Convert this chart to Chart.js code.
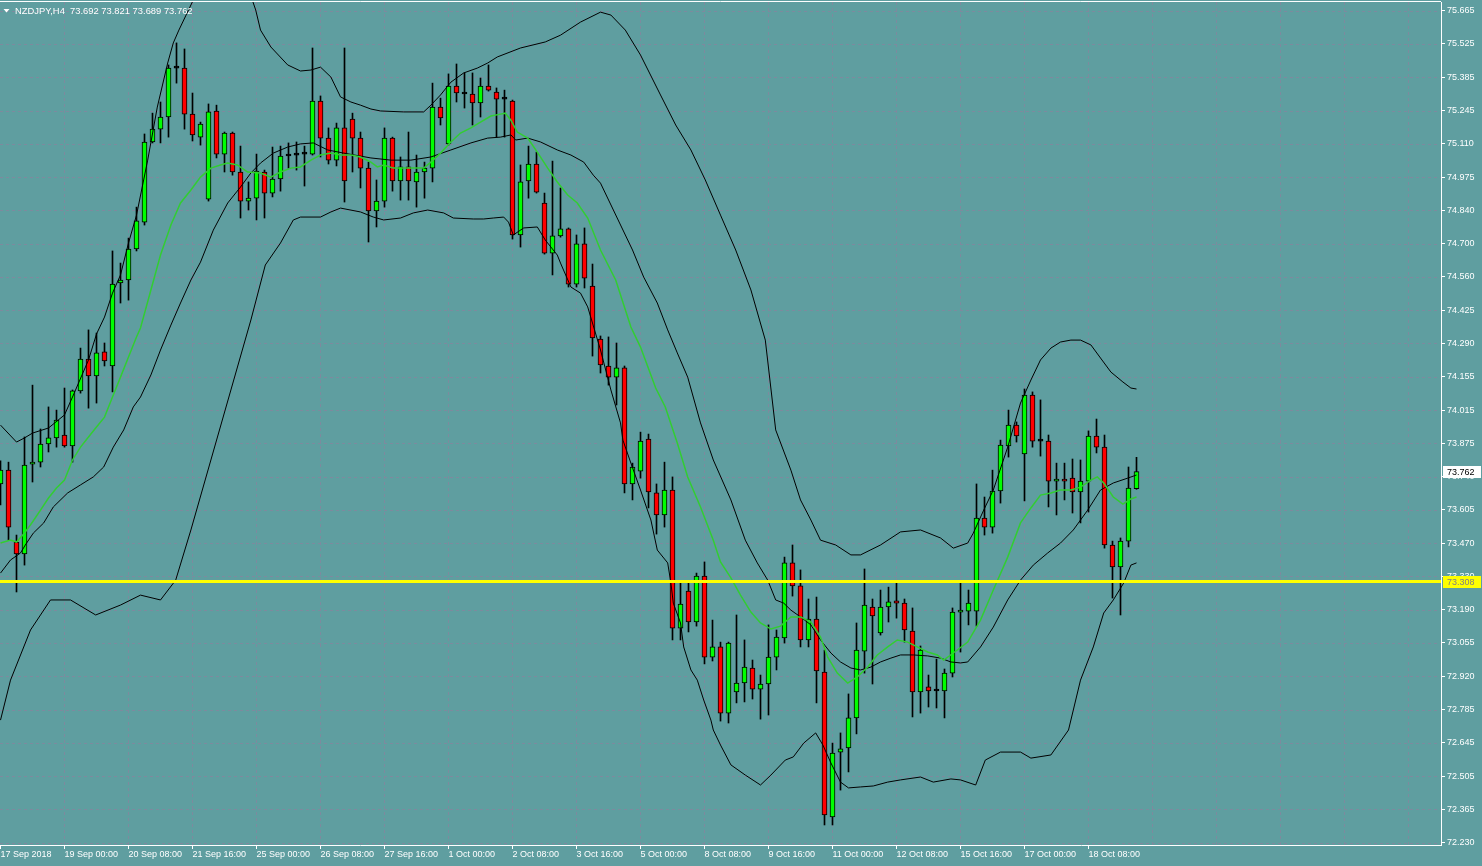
<!DOCTYPE html>
<html>
<head>
<meta charset="utf-8">
<script src="https://cdn.jsdelivr.net/npm/chart.js@4/dist/chart.umd.min.js"></script>
<style>
html,body{margin:0;padding:0;background:#5f9ea0;overflow:hidden}
#wrap{width:1482px;height:866px;position:relative}
</style>
</head>
<body>
<div id="wrap"><canvas id="c" width="1482" height="866"></canvas></div>
<script>
// ---------- chart text ----------
const symbolTitle = 'NZDJPY,H4  73.692 73.821 73.689 73.762';
const xTickLabels = ['17 Sep 2018','19 Sep 00:00','20 Sep 08:00','21 Sep 16:00','25 Sep 00:00','26 Sep 08:00','27 Sep 16:00','1 Oct 00:00','2 Oct 08:00','3 Oct 16:00','5 Oct 00:00','8 Oct 08:00','9 Oct 16:00','11 Oct 00:00','12 Oct 08:00','15 Oct 16:00','17 Oct 00:00','18 Oct 08:00'];
const yTickLabels = ['75.665','75.525','75.385','75.245','75.110','74.975','74.840','74.700','74.560','74.425','74.290','74.155','74.015','73.875','73.740','73.605','73.470','73.330','73.190','73.055','72.920','72.785','72.645','72.505','72.365','72.230'];

// ---------- H4 candles (index 0 = 17 Sep 16:00) ----------
const opens = [73.711,73.768,73.471,73.422,73.793,73.801,73.876,73.901,73.913,73.868,
74.095,74.227,74.157,74.256,74.198,74.541,74.553,74.681,74.792,75.123,
75.176,75.226,75.428,75.428,75.238,75.143,74.887,75.251,75.073,75.160,
74.999,74.879,74.891,74.999,74.912,74.970,75.065,75.069,75.073,75.073,
75.292,75.139,75.048,75.181,75.218,75.139,75.015,74.838,74.879,75.139,
74.962,75.020,74.958,74.999,75.015,75.267,75.115,75.354,75.321,75.321,
75.284,75.354,75.329,75.300,75.292,74.739,74.962,75.032,74.871,74.664,
74.735,74.764,74.536,74.702,74.528,74.309,74.198,74.152,74.190,73.711,
73.764,73.896,73.674,73.583,73.686,73.116,73.269,73.141,73.331,72.996,
73.038,72.765,72.852,72.889,72.951,72.864,72.885,72.996,73.075,73.385,
73.290,73.067,73.153,72.934,72.336,72.604,72.621,72.745,73.021,73.203,
73.096,73.203,73.228,73.219,73.104,72.852,72.873,72.856,72.856,72.930,
73.182,73.186,73.186,73.570,73.533,73.682,73.868,73.954,73.835,74.078,
73.888,73.888,73.723,73.731,73.735,73.678,73.723,73.909,73.863,73.459,
73.368,73.475,73.692];
const highs = [73.806,73.801,73.500,73.905,74.119,73.938,74.029,74.016,74.107,74.099,
74.272,74.347,74.334,74.293,74.673,74.623,74.726,74.854,75.156,75.242,
75.288,75.441,75.532,75.507,75.325,75.205,75.280,75.275,75.164,75.164,
75.106,74.958,75.073,75.007,75.102,75.106,75.119,75.123,75.106,75.511,
75.313,75.181,75.201,75.511,75.242,75.164,75.040,74.966,75.181,75.143,
75.061,75.164,75.069,75.040,75.366,75.304,75.404,75.445,75.408,75.408,
75.387,75.441,75.346,75.337,75.296,75.028,75.106,75.081,74.912,75.044,
74.933,74.768,74.739,74.768,74.619,74.322,74.318,74.293,74.198,73.797,
73.925,73.917,73.711,73.801,73.740,73.306,73.306,73.343,73.389,73.149,
73.058,73.058,73.170,73.067,72.984,72.922,73.129,73.108,73.409,73.459,
73.356,73.236,73.244,73.025,72.641,72.683,72.844,73.137,73.360,73.236,
73.273,73.285,73.306,73.236,73.199,73.042,72.922,72.988,72.947,73.199,
73.302,73.273,73.711,73.657,73.768,73.892,74.016,73.967,74.103,74.091,
74.058,73.913,73.797,73.797,73.814,73.810,73.930,73.979,73.913,73.475,
73.488,73.781,73.821];
const lows = [73.624,73.479,73.265,73.376,73.719,73.781,73.843,73.863,73.863,73.801,
74.086,74.024,74.045,74.198,74.091,74.458,74.470,74.673,74.780,75.119,
75.119,75.143,75.366,75.176,75.127,75.110,74.879,75.057,74.999,74.986,
74.809,74.842,74.801,74.809,74.896,74.920,75.015,75.007,74.941,75.069,
75.061,75.032,75.024,74.875,74.999,74.933,74.710,74.772,74.854,74.920,
74.883,74.883,74.854,74.891,74.958,75.193,75.110,75.288,75.263,75.193,
75.226,75.333,75.143,75.143,74.722,74.689,74.891,74.912,74.660,74.574,
74.730,74.524,74.524,74.520,74.239,74.169,74.119,74.037,73.674,73.645,
73.735,73.612,73.504,73.533,73.067,73.067,73.100,73.124,72.968,72.980,
72.732,72.724,72.807,72.811,72.823,72.740,72.757,72.943,73.054,73.248,
73.038,73.038,72.807,72.303,72.303,72.447,72.522,72.679,72.930,72.885,
73.087,73.141,73.157,73.058,72.749,72.765,72.790,72.786,72.745,72.914,
73.017,73.129,73.124,73.500,73.508,73.632,73.822,73.884,73.641,73.863,
73.826,73.616,73.583,73.645,73.591,73.550,73.595,73.839,73.446,73.240,
73.170,73.451,73.689];
const closes = [73.768,73.533,73.422,73.789,73.801,73.876,73.901,73.975,73.868,74.095,
74.227,74.157,74.252,74.219,74.536,74.553,74.681,74.797,75.123,75.176,
75.226,75.428,75.428,75.238,75.152,75.197,75.247,75.073,75.160,74.999,
74.879,74.891,75.003,74.912,74.970,75.065,75.065,75.069,75.073,75.292,
75.139,75.048,75.181,74.962,75.139,75.015,74.838,74.879,75.139,74.962,
75.020,74.962,74.999,75.015,75.267,75.222,75.354,75.325,75.321,75.284,
75.354,75.337,75.300,75.300,74.739,74.958,75.032,74.916,74.664,74.735,
74.764,74.536,74.702,74.561,74.314,74.202,74.152,74.190,73.711,73.781,
73.888,73.678,73.583,73.686,73.116,73.215,73.141,73.331,72.996,73.038,
72.765,73.054,72.889,72.955,72.864,72.885,72.996,73.079,73.385,73.290,
73.067,73.153,72.939,72.344,72.600,72.617,72.745,73.025,73.211,73.166,
73.203,73.224,73.219,73.108,72.852,73.025,72.856,72.856,72.930,73.182,
73.190,73.219,73.570,73.533,73.682,73.872,73.954,73.909,74.078,73.888,
73.888,73.723,73.731,73.723,73.678,73.723,73.909,73.863,73.459,73.368,
73.475,73.694,73.762];

// ---------- Bollinger bands (black) and moving average (green) ----------
const upperIdx = [0,2,3,4,6,8,9,11,12,13,14,15,16,17,18.4,19.6,20.9,21.6,22.3,24.1,26.3,28.8,30.6,31.9,32.5,33.8,35.9,37.5,38.8,40,41.3,42.5,43.8,45,46.3,47.5,50.4,52.9,53.8,55,56.3,57.9,59.6,60.9,62.1,65,68.1,70,72.5,75,76.3,78.1,80,82.5,84.4,86.3,88.1,90,91.9,93.8,95.6,96.9,98.8,100,101.3,102.5,104.4,106.3,107.5,110,112.5,115,117.5,119.1,120.9,121.6,122.9,124.1,125.9,127.5,128.8,130,131.3,132.5,133.8,135,136.3,137.5,138.8,140.3,141.3,142];
const upperVal = [73.954,73.884,73.901,73.921,73.942,73.996,74.070,74.223,74.330,74.400,74.499,74.574,74.706,74.821,75.048,75.267,75.449,75.532,75.585,75.709,75.812,75.854,75.792,75.668,75.585,75.515,75.441,75.416,75.420,75.432,75.391,75.309,75.288,75.275,75.259,75.251,75.247,75.247,75.275,75.317,75.370,75.408,75.428,75.449,75.474,75.511,75.536,75.564,75.618,75.659,75.647,75.585,75.482,75.317,75.193,75.090,74.966,74.821,74.677,74.512,74.305,73.934,73.768,73.645,73.562,73.479,73.459,73.418,73.418,73.459,73.513,73.521,73.488,73.446,73.467,73.508,73.603,73.686,73.863,74.045,74.140,74.223,74.272,74.297,74.305,74.305,74.285,74.231,74.173,74.132,74.107,74.103];
const midIdx = [0,1.25,2.5,3.1,4.1,5.4,6.6,8.4,10,11.6,12.9,14.1,15.4,16.6,17.5,18.8,20,21.3,22.5,23.8,25,26.6,28.4,30,31.3,32.5,34.1,35.9,37.5,39.1,40.9,42.9,46.3,48.8,51.3,53.8,56.3,58.8,60.9,62.5,63.8,64.4,65.9,67.5,69.6,71.3,72.9,74.1,75,79,80.4,82.1,83.4,84.6,85.9,87.5,89.1,91.3,93.1,94.6,95.9,96.9,97.9,98.8,100,101.3,102.5,103.8,105,106.3,107.5,108.8,110,111.3,112.5,114.1,115.9,117.5,118.8,120,120.9,122.5,124.1,125.9,127.5,129.1,130.9,132.5,134.1,135.9,137.5,139.1,140.9,142];
const midVal = [73.343,73.397,73.426,73.459,73.508,73.550,73.616,73.674,73.707,73.740,73.781,73.863,73.934,74.029,74.070,74.161,74.264,74.367,74.458,74.553,74.627,74.759,74.871,74.937,74.995,75.036,75.077,75.102,75.115,75.119,75.090,75.077,75.057,75.048,75.048,75.061,75.090,75.119,75.139,75.143,75.152,75.131,75.139,75.123,75.090,75.069,75.040,74.986,74.953,74.677,74.565,74.458,74.347,74.252,74.152,73.963,73.810,73.645,73.479,73.385,73.314,73.232,73.219,73.190,73.162,73.129,73.067,73.013,72.976,72.951,72.943,72.955,72.976,72.992,73.005,73.005,73.001,72.992,72.976,72.972,72.976,73.038,73.120,73.232,73.314,73.376,73.426,73.467,73.521,73.603,73.686,73.715,73.735,73.748];
const lowerIdx = [0,1.25,3.75,6.25,8.75,11.9,15,17.5,20,21.9,23.8,26.3,28.8,31.3,33.1,35,36.6,37.5,40,41.3,42.5,45,46.6,47.9,50,51.6,53.4,55.4,56.6,59.1,60.4,61.6,62.9,63.5,64.1,65.4,67.1,68.1,69.6,70,71.3,72.5,73.4,75,76.3,77.5,77.8,78.8,80,81.3,82.1,83.4,83.8,84.1,85,85.4,86.3,87.1,87.9,88.8,89.1,90,91.3,93.1,95,96.3,98.1,99.1,100.4,101.9,102.8,103.8,105,106,107.5,109.1,110.9,112.5,115,116.6,118.8,120,121.9,123.1,125,127.5,128.8,131.3,133.5,135,136.6,137.9,139.1,140.4,141.3,142];
const lowerVal = [72.736,72.901,73.108,73.232,73.232,73.170,73.211,73.252,73.232,73.314,73.521,73.810,74.099,74.388,74.615,74.706,74.801,74.813,74.813,74.834,74.850,74.834,74.813,74.801,74.809,74.830,74.842,74.830,74.809,74.805,74.805,74.809,74.813,74.792,74.739,74.768,74.772,74.718,74.656,74.623,74.524,74.499,74.442,74.264,74.099,73.963,73.892,73.797,73.686,73.562,73.438,73.385,73.302,73.219,73.137,73.038,72.943,72.901,72.819,72.736,72.695,72.633,72.551,72.509,72.468,72.509,72.571,72.584,72.641,72.683,72.633,72.559,72.480,72.456,72.460,72.464,72.480,72.489,72.501,72.480,72.493,72.489,72.468,72.571,72.604,72.604,72.579,72.592,72.695,72.901,73.038,73.178,73.232,73.302,73.376,73.385];
const maIdx = [0,1.25,2,3,4,5,6,7,8,9,10,11,12,13,14,15,16,17,17.5,18.8,20,21.3,22.5,23.8,25,26.3,27.5,28.4,29.6,30.9,32.5,33.8,35,36.3,37.5,38.8,40,41.3,42.5,43.8,45,46.3,47.1,47.9,49.1,51.6,52.9,53.8,55,56.3,57.5,58.8,60,61.3,62.5,63.1,63.8,64.6,65.9,67.1,68.4,69.6,70.9,72.1,73.4,74.6,75,76.9,78.8,80,81.9,83.1,84.6,85.9,87.5,89.1,90,91.3,92.5,93.8,95,96.3,97.5,98.8,100,101.3,102.5,103.4,104.6,105.9,107.1,108.4,109.6,110.9,112.1,113.4,114.6,115.9,117.1,117.9,119.1,120.9,122.5,124.1,125.9,127.5,128.8,130,131.3,132.5,133.8,135,136.3,137.1,137.9,139.1,140.3,141.3,142];
const maVal = [73.467,73.479,73.471,73.508,73.554,73.603,73.653,73.694,73.727,73.810,73.863,73.905,73.946,73.987,74.070,74.152,74.235,74.318,74.355,74.512,74.656,74.780,74.871,74.925,74.978,75.015,75.028,75.036,75.028,74.999,74.995,74.978,74.999,75.015,75.020,75.048,75.069,75.077,75.069,75.069,75.061,75.040,75.020,75.028,75.015,75.015,75.015,75.040,75.077,75.123,75.160,75.181,75.205,75.230,75.238,75.242,75.213,75.164,75.139,75.081,75.015,74.958,74.904,74.871,74.809,74.710,74.677,74.553,74.359,74.276,74.107,74.029,73.880,73.740,73.616,73.479,73.389,73.323,73.252,73.182,73.137,73.112,73.124,73.162,73.162,73.141,73.079,72.996,72.930,72.889,72.914,72.955,73.005,73.038,73.067,73.058,73.038,73.017,73.005,72.984,73.013,73.058,73.149,73.273,73.409,73.550,73.612,73.665,73.674,73.686,73.686,73.698,73.727,73.740,73.715,73.657,73.628,73.649,73.657];

const hLinePrice = 73.308;   // yellow horizontal line
const lastPrice = 73.762;    // current price label

// ---------- build ----------
const FONT = "'Liberation Sans', Arial, sans-serif";
const BG = '#5f9ea0', GRID = '#7d8a9e';
const Y_TOP = 75.665, Y_BOT = 72.230;
const yTickValues = yTickLabels.map((_, k) => Y_TOP - k * (Y_TOP - Y_BOT) / (yTickLabels.length - 1));
const pts = (xs, ys) => xs.map((x, i) => ({x: x, y: ys[i]}));

const wickData = opens.map((o, i) => ({x: i, y: [lows[i], highs[i]]}));
const bodyData = opens.map((o, i) => ({x: i, y: [o, closes[i]]}));
const bodyColors = opens.map((o, i) => closes[i] > o ? '#00ff00' : (closes[i] < o ? '#ff0000' : '#000000'));

const extras = {
  id: 'extras',
  beforeDraw(chart) {
    const c = chart.ctx;
    c.save(); c.fillStyle = BG; c.fillRect(0, 0, chart.width, chart.height); c.restore();
  },
  beforeDatasetsDraw(chart) {
    // dotted MT4-style grid from the scales' own ticks
    const c = chart.ctx, a = chart.chartArea, xs = chart.scales.x, ys = chart.scales.y;
    c.save();
    c.strokeStyle = GRID; c.lineWidth = 1; c.setLineDash([3, 3]);
    c.beginPath();
    ys.ticks.forEach(t => { const y = Math.round(ys.getPixelForValue(t.value)) + 0.5; c.moveTo(a.left, y); c.lineTo(a.right, y); });
    xs.ticks.forEach(t => { if (t.value <= 0) return; const x = Math.floor(xs.getPixelForValue(t.value)) + 0.5; c.moveTo(x, a.top); c.lineTo(x, a.bottom); });
    c.stroke();
    c.restore();
  },
  afterDraw(chart) {
    const c = chart.ctx, a = chart.chartArea, ys = chart.scales.y;
    c.save();
    // top frame line
    c.strokeStyle = '#ffffff'; c.lineWidth = 1;
    c.beginPath(); c.moveTo(0, a.top - 0.5); c.lineTo(a.right, a.top - 0.5); c.stroke();
    // title
    c.fillStyle = '#ffffff';
    c.beginPath(); c.moveTo(3.5, 9); c.lineTo(9.5, 9); c.lineTo(6.5, 12.5); c.closePath(); c.fill();
    c.font = '9.4px ' + FONT; c.textBaseline = 'middle'; c.textAlign = 'left';
    c.fillText(symbolTitle, 15, 11);
    // price labels on the axis
    const box = (price, bg, fg) => {
      const y = Math.round(ys.getPixelForValue(price));
      c.fillStyle = bg; c.fillRect(a.right + 2, y - 6, 38, 12);
      c.fillStyle = fg; c.font = '9px ' + FONT; c.textBaseline = 'middle';
      c.fillText(price.toFixed(3), a.right + 6, y + 0.5);
    };
    box(lastPrice, '#ffffff', '#000000');
    box(hLinePrice, '#ffff00', '#808080');
    c.restore();
  }
};

new Chart(document.getElementById('c'), {
  type: 'bar',
  data: {
    datasets: [
      {type: 'line', data: [{x: -2, y: hLinePrice}, {x: 200, y: hLinePrice}], borderColor: '#ffff00', borderWidth: 3, pointRadius: 0, order: -2},
      {type: 'line', data: pts(maIdx, maVal), borderColor: '#32cd32', borderWidth: 1.5, pointRadius: 0, tension: 0, order: -1},
      {type: 'line', data: pts(upperIdx, upperVal), borderColor: '#000000', borderWidth: 1, pointRadius: 0, tension: 0, order: -1},
      {type: 'line', data: pts(midIdx, midVal), borderColor: '#000000', borderWidth: 1, pointRadius: 0, tension: 0, order: -1},
      {type: 'line', data: pts(lowerIdx, lowerVal), borderColor: '#000000', borderWidth: 1, pointRadius: 0, tension: 0, order: -1},
      {type: 'bar', data: bodyData, backgroundColor: bodyColors, borderColor: '#000000', borderWidth: 1, borderSkipped: false, barThickness: 5, minBarLength: 2, grouped: false, order: 1},
      {type: 'bar', data: wickData, backgroundColor: '#000000', borderWidth: 0, barThickness: 1, grouped: false, order: 2}
    ]
  },
  options: {
    responsive: false, animation: false, devicePixelRatio: 1,
    layout: {padding: {top: 2, left: 0, right: 0, bottom: 0}},
    plugins: {legend: {display: false}, tooltip: {enabled: false}, title: {display: false}},
    scales: {
      x: {
        type: 'linear', min: -0.0625, max: 180.0625, offset: false,
        afterBuildTicks: s => { s.ticks = []; for (let k = 0; k <= 22; k++) s.ticks.push({value: 8 * k}); },
        afterFit: s => { s.height = 21; s.paddingLeft = 0; s.paddingRight = 0; },
        grid: {
          offset: false, lineWidth: 1, drawTicks: true, drawOnChartArea: false, tickLength: 4,
          tickColor: c => (c.index < xTickLabels.length) ? '#ffffff' : 'rgba(0,0,0,0)'
        },
        border: {display: true, color: '#ffffff', width: 1},
        ticks: {autoSkip: false, maxRotation: 0, minRotation: 0, align: 'start', padding: 0, color: '#ffffff',
          font: {family: FONT, size: 9},
          callback: v => { const k = Math.round(v / 8); return k < xTickLabels.length ? xTickLabels[k] : ''; }}
      },
      y: {
        type: 'linear', position: 'right', min: 72.2203, max: 75.7009,
        afterBuildTicks: s => { s.ticks = yTickValues.map(v => ({value: v})); },
        afterFit: s => { s.width = 41; s.paddingTop = 0; s.paddingBottom = 0; },
        grid: {lineWidth: 1, drawTicks: true, drawOnChartArea: false, tickLength: 4, tickColor: '#ffffff'},
        border: {display: true, color: '#ffffff', width: 1},
        ticks: {autoSkip: false, padding: 2, color: '#ffffff', font: {family: FONT, size: 9},
          callback: (v, i) => yTickLabels[i]}
      }
    }
  },
  plugins: [extras]
});
</script>
</body>
</html>
